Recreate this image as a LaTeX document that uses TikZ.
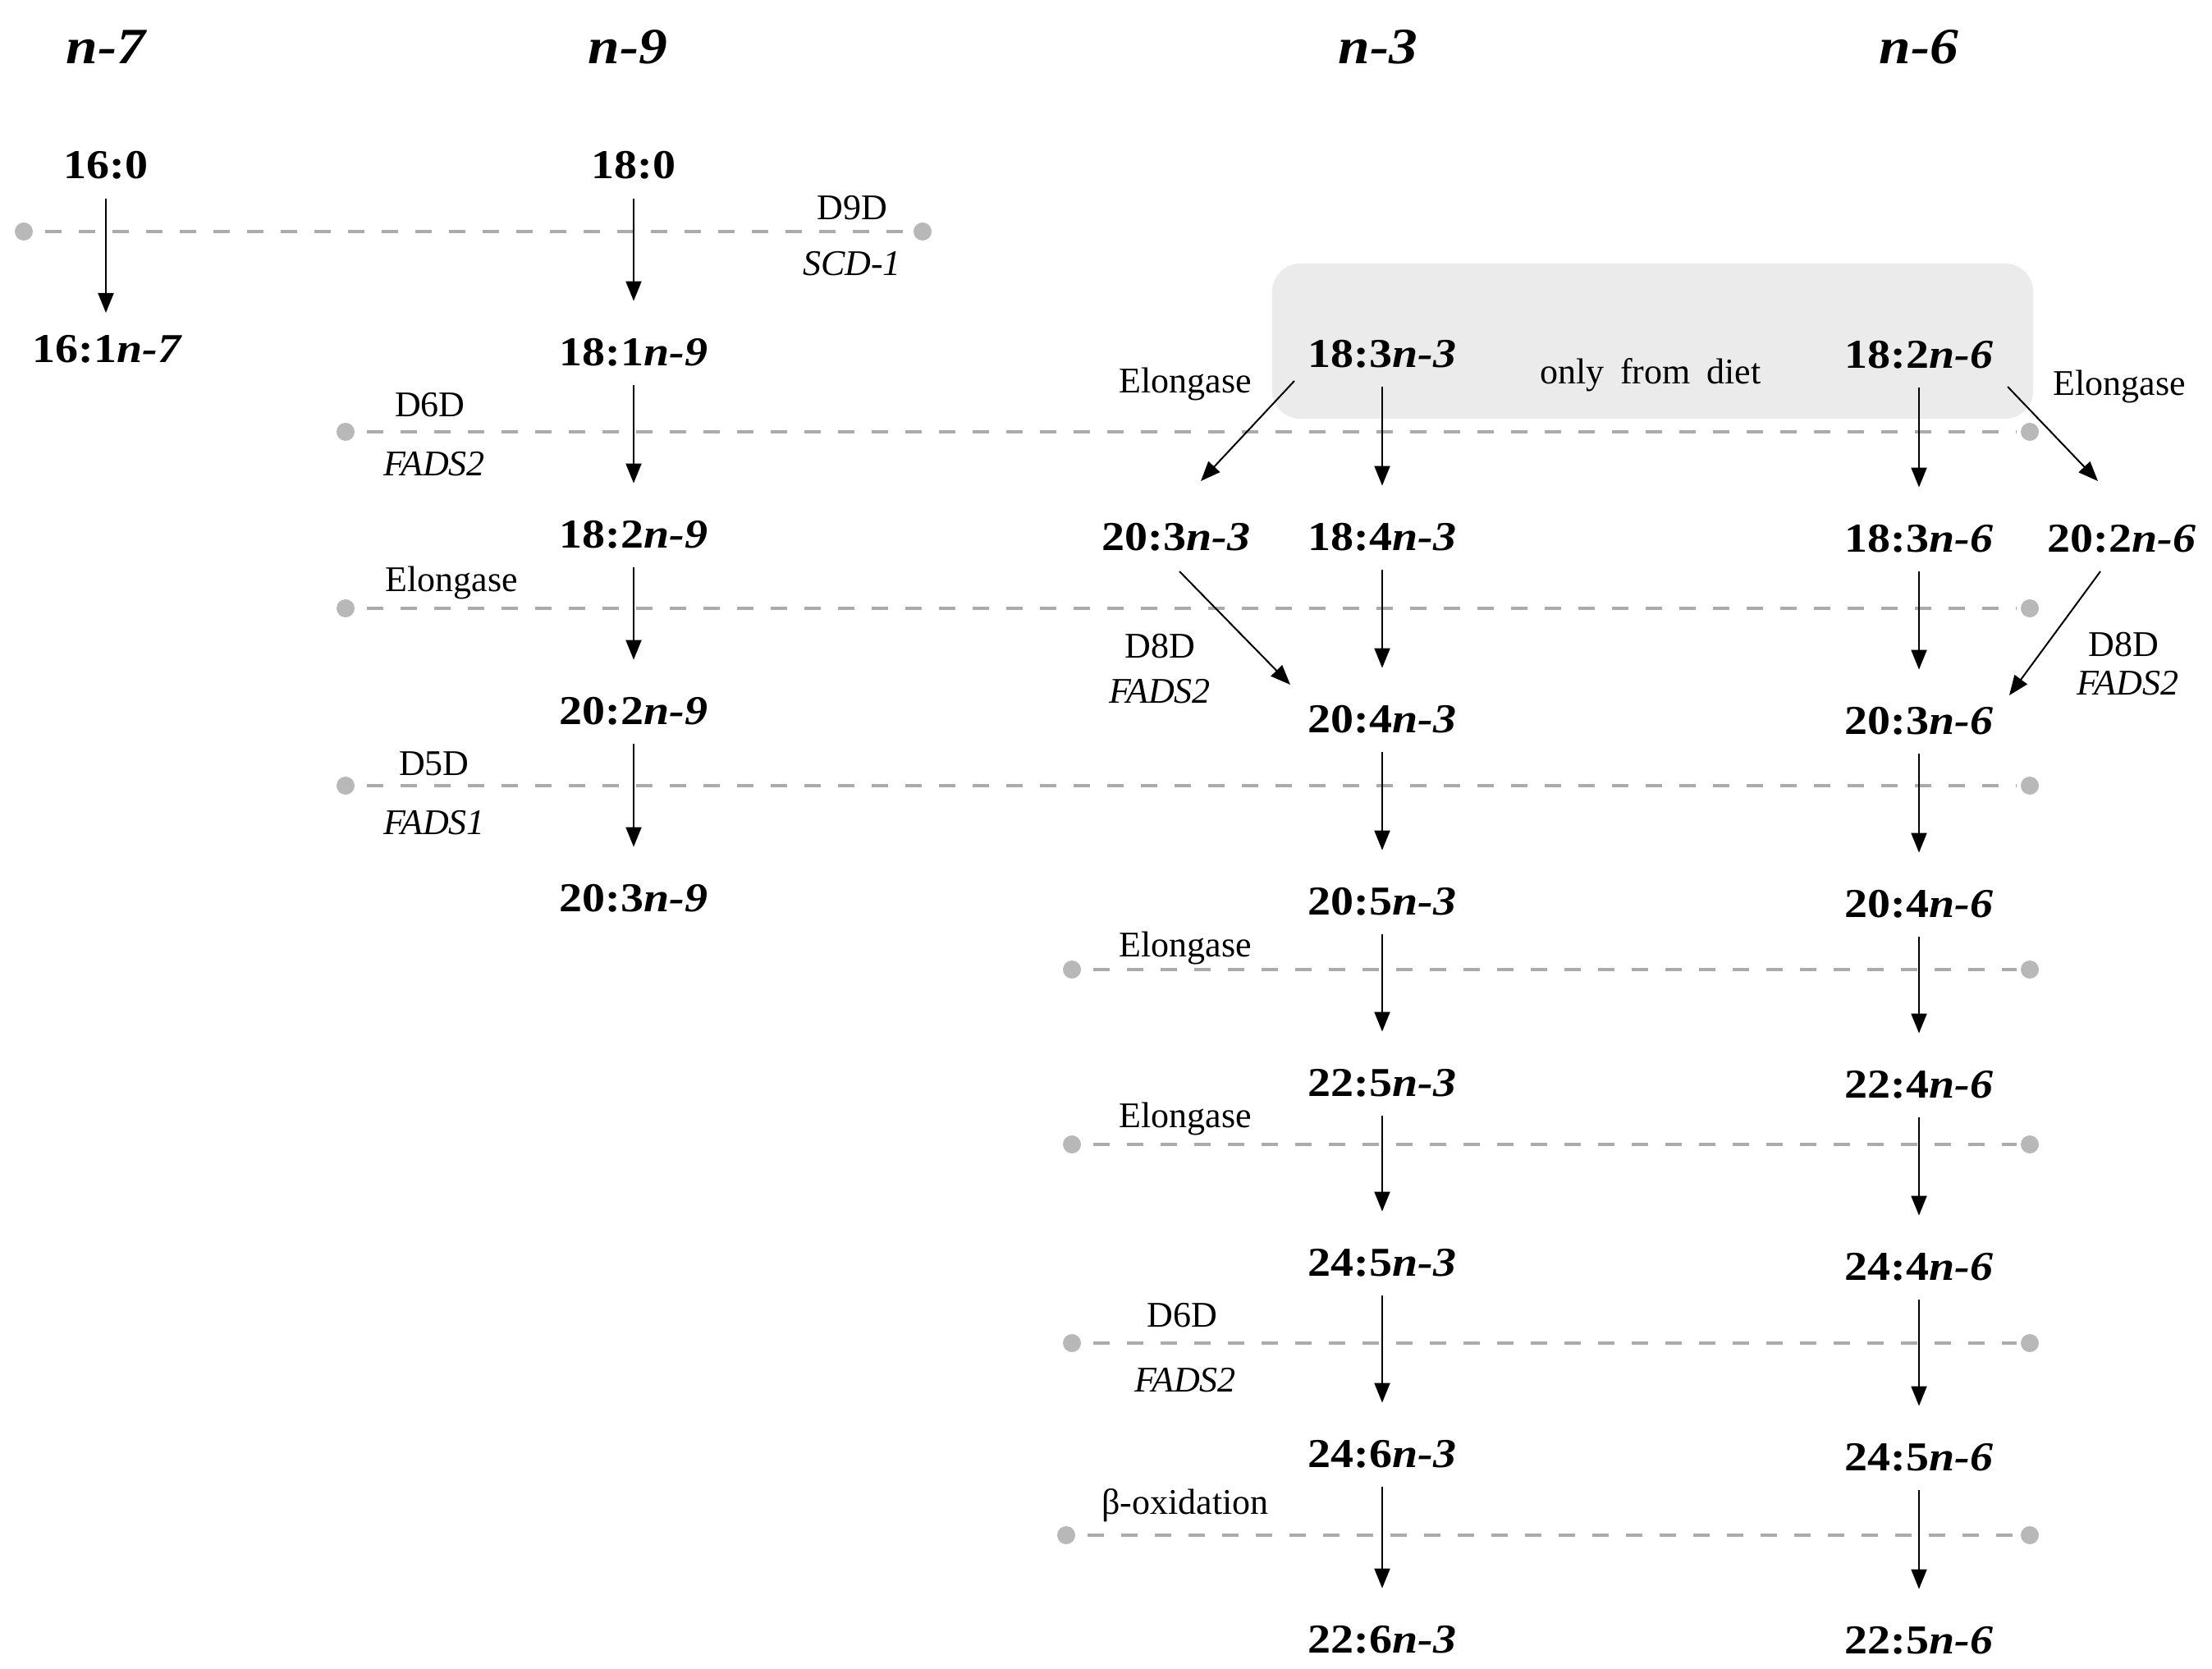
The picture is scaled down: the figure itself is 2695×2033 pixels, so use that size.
\documentclass[tikz,border=0pt]{standalone}
\usepackage{fontspec}
\setmainfont{Liberation Serif}
\newfontfamily\fabold[FakeStretch=1.12]{Liberation Serif}
\usetikzlibrary{arrows.meta}
\definecolor{dashc}{HTML}{ABABAB}
\definecolor{dotc}{HTML}{B8B8B8}
\definecolor{boxc}{HTML}{EBEBEB}
\tikzset{
  fa/.style={font=\fabold\bfseries\fontsize{25pt}{30pt}\selectfont, inner sep=0pt, text height=17pt, text depth=0pt},
  hdr/.style={font=\fabold\bfseries\itshape\fontsize{31pt}{36pt}\selectfont, inner sep=0pt},
  enz/.style={font=\fontsize{22pt}{26pt}\selectfont, inner sep=0pt},
  gene/.style={font=\itshape\fontsize{22pt}{26pt}\selectfont, inner sep=0pt},
  flow/.style={-{Triangle[length=12pt,width=9.5pt]}, line width=1pt, shorten <=12pt, shorten >=22pt},
  flowd/.style={-{Triangle[length=12pt,width=9.5pt]}, line width=1pt},
  enzline/.style={dashc, line width=2.2pt, dash pattern=on 10pt off 10.5pt},
}
\begin{document}
\begin{tikzpicture}[x=0.5pt,y=-0.5pt]
\useasboundingbox (0,0) rectangle (2695,2033);
% diet box
\fill[boxc, rounded corners=17pt] (1550,321) rectangle (2477,510);
% enzyme lines
\foreach \y/\xa/\xb in {282/29/1124, 526/421/2473, 741/421/2473, 957/421/2473, 1181/1306/2473, 1394/1306/2473, 1636/1306/2473, 1870/1299/2473} {
  \coordinate (L\y) at (\xa,\y);
  \coordinate (R\y) at (\xb,\y);
  \draw[enzline] ([xshift=13pt]L\y) -- ([xshift=-8pt]R\y);
  \fill[dotc] (L\y) circle (5.5pt);
  \fill[dotc] (R\y) circle (5.5pt);
}
% headers
\node[hdr] (h7) at (129,57) {n-7};
\node[hdr] (h9) at (765,57) {n-9};
\node[hdr] (h3) at (1679,57) {n-3};
\node[hdr] (h6) at (2338,57) {n-6};
% n-7
\node[fa] (a160) at (129,201) {16:0};
\node[fa] (a161) at (131,425) {16:1\textit{n-7}};
% n-9
\node[fa] (b180) at (772,201) {18:0};
\node[fa] (b181) at (772,428) {18:1\textit{n-9}};
\node[fa] (b182) at (772,650) {18:2\textit{n-9}};
\node[fa] (b202) at (772,865) {20:2\textit{n-9}};
\node[fa] (b203) at (772,1093) {20:3\textit{n-9}};
% n-3
\node[fa] (c183) at (1684,430) {18:3\textit{n-3}};
\node[fa] (c203) at (1433,653) {20:3\textit{n-3}};
\node[fa] (c184) at (1684,653) {18:4\textit{n-3}};
\node[fa] (c204) at (1684,875) {20:4\textit{n-3}};
\node[fa] (c205) at (1684,1097) {20:5\textit{n-3}};
\node[fa] (c225) at (1684,1318) {22:5\textit{n-3}};
\node[fa] (c245) at (1684,1537) {24:5\textit{n-3}};
\node[fa] (c246) at (1684,1770) {24:6\textit{n-3}};
\node[fa] (c226) at (1684,1996) {22:6\textit{n-3}};
% n-6
\node[fa] (d182) at (2338,431) {18:2\textit{n-6}};
\node[fa] (d183) at (2338,655) {18:3\textit{n-6}};
\node[fa] (d202) at (2585,655) {20:2\textit{n-6}};
\node[fa] (d203) at (2338,877) {20:3\textit{n-6}};
\node[fa] (d204) at (2338,1100) {20:4\textit{n-6}};
\node[fa] (d224) at (2338,1320) {22:4\textit{n-6}};
\node[fa] (d244) at (2338,1542) {24:4\textit{n-6}};
\node[fa] (d245) at (2338,1774) {24:5\textit{n-6}};
\node[fa] (d225) at (2338,1997) {22:5\textit{n-6}};
% enzyme labels
\node[enz] (e1) at (1038,253) {D9D};
\node[gene] (g1) at (1038,321) {SCD-1};
\node[enz] (e2) at (524,493) {D6D};
\node[gene] (g2) at (529,565) {FADS2};
\node[enz] (e3) at (550,710) {Elongase};
\node[enz] (e4) at (529,930) {D5D};
\node[gene] (g4) at (529,1002) {FADS1};
\node[enz] (e5) at (1444,468) {Elongase};
\node[enz] (e6) at (2582,471) {Elongase};
\node[enz] (diet) at (2011,457) {only\hspace{0.45em}from\hspace{0.45em}diet};
\node[enz] (e7) at (1413,787) {D8D};
\node[gene] (g7) at (1413,842) {FADS2};
\node[enz] (e8) at (2587,785) {D8D};
\node[gene] (g8) at (2592,832) {FADS2};
\node[enz] (e9) at (1444,1155) {Elongase};
\node[enz] (e10) at (1444,1363) {Elongase};
\node[enz] (e11) at (1440,1602) {D6D};
\node[gene] (g11) at (1444,1681) {FADS2};
\node[enz] (e12) at (1444,1834) {β-oxidation};
% vertical arrows
\draw[flow] (a160) -- (a160 |- a161);
\draw[flow] (b180) -- (b181);
\draw[flow] (b181) -- (b182);
\draw[flow] (b182) -- (b202);
\draw[flow] (b202) -- (b203);
\draw[flow] (c183) -- (c184);
\draw[flow] (c184) -- (c204);
\draw[flow] (c204) -- (c205);
\draw[flow] (c205) -- (c225);
\draw[flow] (c225) -- (c245);
\draw[flow] (c245) -- (c246);
\draw[flow] (c246) -- (c226);
\draw[flow] (d182) -- (d183);
\draw[flow] (d183) -- (d203);
\draw[flow] (d203) -- (d204);
\draw[flow] (d204) -- (d224);
\draw[flow] (d224) -- (d244);
\draw[flow] (d244) -- (d245);
\draw[flow] (d245) -- (d225);
% diagonal arrows
\draw[flowd] ([shift={(-107,34)}]c183.center) -- ([shift={(30,-67)}]c203.center);
\draw[flowd] ([shift={(108,40)}]d182.center) -- ([shift={(-29,-69)}]d202.center);
\draw[flowd] ([shift={(4,43)}]c203.center) -- ([shift={(-112,-41)}]c204.center);
\draw[flowd] ([shift={(-26,41)}]d202.center) -- ([shift={(110,-30)}]d203.center);
\end{tikzpicture}
\end{document}
